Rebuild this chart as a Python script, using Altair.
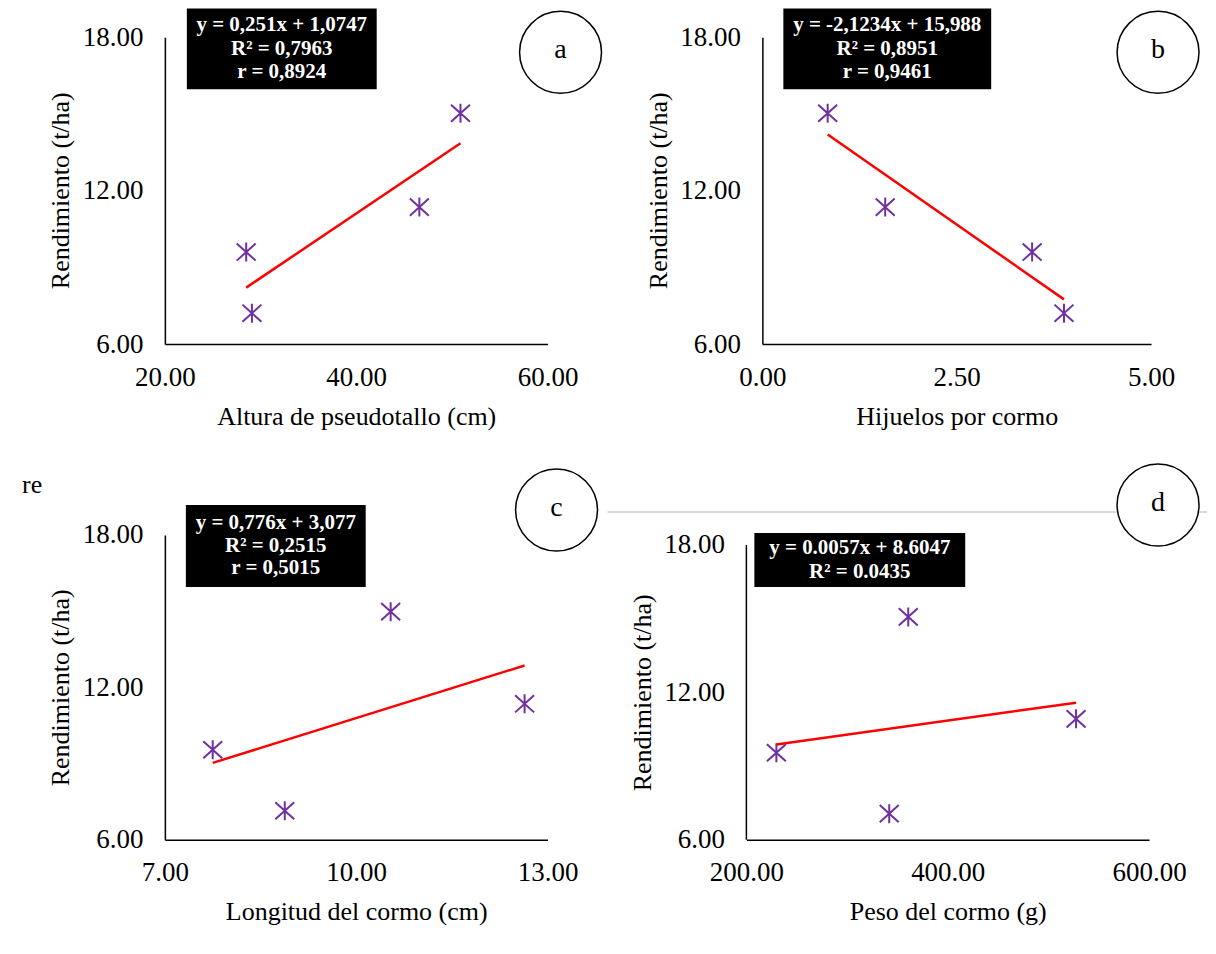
import altair as alt
import pandas as pd

# ---------------- data ----------------
a_x = [50.9, 46.6, 28.5, 29.1]
a_y = [15.03, 11.36, 9.60, 7.21]
b_x = [0.84, 1.58, 3.47, 3.88]
b_y = [15.03, 11.36, 9.60, 7.21]
c_x = [10.54, 12.64, 7.75, 8.88]
c_y = [14.98, 11.35, 9.54, 7.14]
d_x = [360.8, 527.5, 229.8, 341.9]
d_y = [15.07, 10.92, 9.54, 7.06]

a_ticks = [20, 40, 60]
b_ticks = [0, 2.5, 5]
c_ticks = [7, 10, 13]
d_ticks = [200, 400, 600]
y_ticks = [6, 12, 18]

x_titles = ["Altura de pseudotallo (cm)", "Hijuelos por cormo",
            "Longitud del cormo (cm)", "Peso del cormo (g)"]
y_title = "Rendimiento (t/ha)"
letters = ["a", "b", "c", "d"]

eq_a = ["y = 0,251x + 1,0747", "R² = 0,7963", "r = 0,8924"]
eq_b = ["y = -2,1234x + 15,988", "R² = 0,8951", "r = 0,9461"]
eq_c = ["y = 0,776x + 3,077", "R² = 0,2515", "r = 0,5015"]
eq_d = ["y = 0.0057x + 8.6047", "R² = 0.0435"]
stray = "re"

PURPLE = "#7030A0"
FONT = "Liberation Serif"
ASTERISK = "M-1,-0.9L1,0.9M-1,0.9L1,-0.9M0,-1L0,1"

one = pd.DataFrame({"k": [0]})


def deco_box(x0, x1, y0, y1, lines, ys):
    cx = (x0 + x1) / 2
    layers = [alt.Chart(one).mark_rect(color="black").encode(
        x=alt.value(x0), x2=alt.value(x1), y=alt.value(y0), y2=alt.value(y1))]
    for t, ty in zip(lines, ys):
        layers.append(alt.Chart(one).mark_text(
            text=t, color="white", font=FONT, fontWeight="bold", fontSize=21,
            align="center", baseline="middle").encode(x=alt.value(cx), y=alt.value(ty)))
    return layers


def deco_circle(cx, cy, letter):
    circ = alt.Chart(one).mark_point(
        shape="circle", size=6724, filled=True, fill="white", stroke="black",
        strokeWidth=1.5, opacity=1).encode(x=alt.value(cx), y=alt.value(cy))
    txt = alt.Chart(one).mark_text(
        text=letter, font=FONT, fontSize=28, color="black",
        align="center", baseline="middle").encode(x=alt.value(cx), y=alt.value(cy - 2))
    return [circ, txt]


def panel(xs, ys, xdom, xticks, xtitle, w, h, ydom, ytitle_y, extra, ydomain_line=True):
    df = pd.DataFrame({"x": xs, "y": ys})
    X = alt.X("x:Q", scale=alt.Scale(domain=xdom, nice=False, zero=False),
              axis=alt.Axis(values=xticks, format=".2f", title=xtitle,
                            titleX=w / 2, titleY=72, titleBaseline="middle",
                            titleAlign="center"))
    Y = alt.Y("y:Q", scale=alt.Scale(domain=ydom, nice=False, zero=False),
              axis=alt.Axis(values=y_ticks, format=".2f", title=y_title,
                            titleX=-104, titleY=ytitle_y, titleAngle=270,
                            titleBaseline="middle", titleAlign="center",
                            domain=ydomain_line))
    pts = alt.Chart(df).mark_point(
        shape=ASTERISK, filled=False, color=PURPLE, strokeWidth=2,
        size=361, opacity=1).encode(x=X, y=Y)
    trend = alt.Chart(df).transform_regression("x", "y").mark_line(
        color="#FF0000", strokeWidth=2.5).encode(x=X, y=Y)
    layers = [pts, trend] + extra
    return alt.layer(*layers).properties(width=w, height=h)


# panel a
pa = panel(a_x, a_y, [20, 60], a_ticks, x_titles[0], 383, 307, [6, 18], 153,
           deco_box(22, 212, -29, 52, eq_a, [-12, 11.5, 35]) + deco_circle(396, 15, letters[0]))
# panel b
pb = panel(b_x, b_y, [0, 5], b_ticks, x_titles[1], 389, 307, [6, 18], 153,
           deco_box(21, 229, -29, 52, eq_b, [-12, 11.5, 35]) + deco_circle(396, 15, letters[1]))
# panel c
gray_line = alt.Chart(one).mark_rule(color="#d9d9d9", strokeWidth=2).encode(
    x=alt.value(443), x2=alt.value(1043), y=alt.value(-23))
stray_txt = alt.Chart(one).mark_text(
    text=stray, font=FONT, fontSize=26, color="black", align="left",
    baseline="middle").encode(x=alt.value(-143), y=alt.value(-50))
pc = panel(c_x, c_y, [7, 13], c_ticks, x_titles[2], 383, 305, [6, 18], 152.5,
           [gray_line, stray_txt] + deco_box(21, 201, -30, 52, eq_c, [-12, 11, 33])
           + deco_circle(392, -25, letters[2]))
# panel d (plot 10px shorter: top of domain extended)
d_axis_line = alt.Chart(one).mark_rule(color="black", strokeWidth=1.5).encode(
    x=alt.value(0), y=alt.datum(6), y2=alt.datum(18))
pd_ = panel(d_x, d_y, [200, 600], d_ticks, x_titles[3], 403, 305, [6, 18.4068], 157.5,
            [d_axis_line] + deco_box(8, 219, -2, 52, eq_d, [13, 37])
            + deco_circle(412, -30, letters[3]), ydomain_line=False)

top = alt.hconcat(pa, pb, spacing=215, bounds="flush")
bottom = alt.hconcat(pc, pd_, spacing=199, bounds="flush")
chart = alt.vconcat(top, bottom, spacing=498, bounds="flush").properties(
    padding={"left": 14, "top": 0, "right": 0, "bottom": 5}
).configure_axis(
    labelFont=FONT, labelFontSize=27, labelColor="black",
    titleFont=FONT, titleFontSize=26, titleFontWeight="normal", titleColor="black",
    domainColor="black", domainWidth=1.5, ticks=False, tickSize=0, grid=False,
    labelFlush=False, labelOverlap=False
).configure_axisX(labelPadding=20).configure_axisY(labelPadding=22).configure_view(strokeWidth=0)

chart.save("out.html", embed_options={"renderer": "svg", "actions": False})
